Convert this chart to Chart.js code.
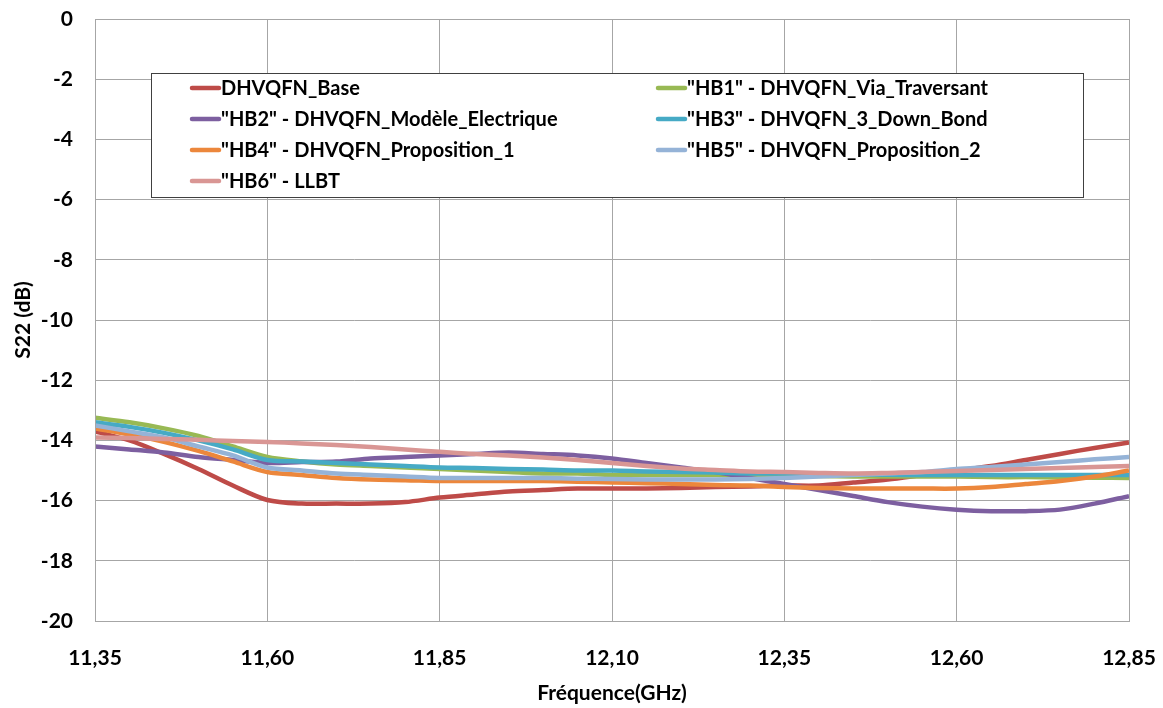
<!DOCTYPE html>
<html>
<head>
<meta charset="utf-8">
<script src="https://cdn.jsdelivr.net/npm/chart.js@4/dist/chart.umd.min.js"></script>
<style>
  html, body { margin: 0; padding: 0; background: #fff; }
  #wrap { width: 1163px; height: 708px; position: relative; }
</style>
</head>
<body>
<div id="wrap"><canvas id="myChart" width="1163" height="708"></canvas></div>
<script>
// frequencies (GHz)
var freqs = [11.35, 11.40, 11.45, 11.50, 11.55, 11.60, 11.65, 11.70, 11.75, 11.80,
             11.85, 11.90, 11.95, 12.00, 12.05, 12.10, 12.15, 12.20, 12.25, 12.30,
             12.35, 12.40, 12.45, 12.50, 12.55, 12.60, 12.65, 12.70, 12.75, 12.80, 12.85];

var base = [-13.7, -14.0, -14.45, -14.95, -15.5, -15.98, -16.1, -16.1, -16.1, -16.05,
            -15.9, -15.8, -15.7, -15.65, -15.6, -15.6, -15.6, -15.58, -15.55, -15.53,
            -15.5, -15.5, -15.4, -15.3, -15.15, -15.0, -14.85, -14.65, -14.45, -14.25, -14.07];

var hb1 = [-13.25, -13.4, -13.6, -13.85, -14.2, -14.55, -14.7, -14.8, -14.85, -14.9,
           -14.95, -15.0, -15.05, -15.1, -15.1, -15.15, -15.15, -15.15, -15.15, -15.17,
           -15.18, -15.18, -15.2, -15.2, -15.2, -15.2, -15.22, -15.22, -15.23, -15.24, -15.25];

var hb2 = [-14.2, -14.3, -14.4, -14.55, -14.65, -14.75, -14.72, -14.7, -14.6, -14.55,
           -14.5, -14.45, -14.4, -14.45, -14.5, -14.6, -14.75, -14.9, -15.05, -15.25,
           -15.45, -15.65, -15.85, -16.05, -16.2, -16.3, -16.35, -16.35, -16.3, -16.1, -15.85];

var hb3 = [-13.4, -13.55, -13.75, -14.0, -14.3, -14.65, -14.7, -14.75, -14.8, -14.85,
           -14.9, -14.92, -14.95, -14.97, -15.0, -15.0, -15.03, -15.05, -15.07, -15.1,
           -15.1, -15.12, -15.13, -15.14, -15.15, -15.15, -15.15, -15.15, -15.15, -15.15, -15.15];

var hb4 = [-13.6, -13.8, -14.05, -14.35, -14.7, -15.05, -15.15, -15.25, -15.3, -15.32,
           -15.35, -15.35, -15.35, -15.35, -15.37, -15.4, -15.42, -15.45, -15.48, -15.5,
           -15.55, -15.58, -15.6, -15.6, -15.6, -15.6, -15.55, -15.45, -15.35, -15.2, -15.0];

var hb5 = [-13.5, -13.7, -13.9, -14.2, -14.5, -14.9, -15.0, -15.1, -15.15, -15.2,
           -15.25, -15.25, -15.25, -15.25, -15.27, -15.28, -15.3, -15.3, -15.3, -15.28,
           -15.25, -15.2, -15.15, -15.1, -15.05, -14.95, -14.88, -14.8, -14.72, -14.63, -14.55];

var hb6 = [-13.9, -13.92, -13.95, -13.98, -14.02, -14.05, -14.1, -14.15, -14.22, -14.3,
           -14.38, -14.45, -14.5, -14.57, -14.65, -14.75, -14.85, -14.93, -14.98, -15.03,
           -15.05, -15.08, -15.1, -15.08, -15.05, -15.02, -14.98, -14.95, -14.92, -14.88, -14.85];

var noms = ['DHVQFN_Base',
            '"HB1" - DHVQFN_Via_Traversant',
            '"HB2" - DHVQFN_Modèle_Electrique',
            '"HB3" - DHVQFN_3_Down_Bond',
            '"HB4" - DHVQFN_Proposition_1',
            '"HB5" - DHVQFN_Proposition_2',
            '"HB6" - LLBT'];
var series = [base, hb1, hb2, hb3, hb4, hb5, hb6];
var couleurs = ['#BE4B48', '#98B954', '#7D5FA0', '#46AAC5', '#EC873C', '#95B3D7', '#D99694'];

var xTicks = [11.35, 11.60, 11.85, 12.10, 12.35, 12.60, 12.85];
var yTicks = [0, -2, -4, -6, -8, -10, -12, -14, -16, -18, -20];

var police = "Lato, 'Open Sans', sans-serif";

var datasets = series.map(function (vals, i) {
    return {
        label: noms[i],
        data: vals.map(function (v, k) { return { x: freqs[k], y: v }; }),
        borderColor: couleurs[i],
        backgroundColor: couleurs[i],
        borderWidth: 4.5,
        pointRadius: 0,
        tension: 0.3,
        order: series.length - i
    };
});

// legend drawn inside the plot, two columns like the original
var legendeInterne = {
    id: 'legendeInterne',
    afterDraw: function (chart) {
        var ctx = chart.ctx;
        ctx.save();
        ctx.fillStyle = '#fff';
        ctx.fillRect(151, 73, 932, 124);
        ctx.strokeStyle = '#404040';
        ctx.lineWidth = 1;
        ctx.strokeRect(151.5, 73.5, 932, 124);
        ctx.font = 'bold 20px ' + police;
        ctx.textBaseline = 'middle';
        var rows = [88, 119, 150, 181];
        for (var i = 0; i < noms.length; i++) {
            var col = i % 2;
            var row = Math.floor(i / 2);
            var lx = col === 0 ? 192 : 658;
            var y = rows[row];
            ctx.strokeStyle = couleurs[i];
            ctx.lineWidth = 4.5;
            ctx.lineCap = 'round';
            ctx.beginPath();
            ctx.moveTo(lx, y);
            ctx.lineTo(lx + 27, y);
            ctx.stroke();
            ctx.fillStyle = '#000';
            ctx.fillText(noms[i], lx + 29, y + 1);
        }
        ctx.restore();
    }
};

var dataChart = new Chart(document.getElementById('myChart').getContext('2d'), {
    type: 'line',
    data: { datasets: datasets },
    options: {
        responsive: false,
        animation: false,
        layout: { padding: { left: 0, right: 34, top: 19, bottom: 0 } },
        plugins: {
            legend: { display: false },
            tooltip: { enabled: false }
        },
        scales: {
            x: {
                type: 'linear',
                min: 11.35,
                max: 12.85,
                afterBuildTicks: function (axis) {
                    axis.ticks = xTicks.map(function (v) { return { value: v }; });
                },
                afterFit: function (axis) {
                    axis.height = 87;
                    axis.paddingLeft = 0;
                    axis.paddingRight = 0;
                },
                grid: { color: '#a6a6a6', drawTicks: false },
                border: { color: '#a6a6a6' },
                ticks: {
                    padding: 25,
                    color: '#000',
                    maxRotation: 0,
                    font: { family: police, size: 21, weight: 'bold' },
                    callback: function (v) { return v.toFixed(2).replace('.', ','); }
                },
                title: {
                    display: true,
                    text: 'Fréquence(GHz)',
                    color: '#000',
                    padding: { top: 0, bottom: 2 },
                    font: { family: police, size: 21, weight: 'bold' }
                }
            },
            y: {
                min: -20,
                max: 0,
                afterBuildTicks: function (axis) {
                    axis.ticks = yTicks.map(function (v) { return { value: v }; });
                },
                afterFit: function (axis) {
                    axis.width = 95;
                    axis.paddingTop = 0;
                    axis.paddingBottom = 0;
                },
                grid: { color: '#a6a6a6', drawTicks: false },
                border: { color: '#a6a6a6' },
                ticks: {
                    padding: 22,
                    color: '#000',
                    font: { family: police, size: 21, weight: 'bold' }
                },
                title: {
                    display: true,
                    text: 'S22 (dB)',
                    color: '#000',
                    padding: { top: 11, bottom: 0 },
                    font: { family: police, size: 21, weight: 'bold' }
                }
            }
        }
    },
    plugins: [legendeInterne, {
        id: 'cadre',
        afterDatasetsDraw: function (chart) {
            var a = chart.chartArea, ctx = chart.ctx;
            ctx.save();
            ctx.strokeStyle = '#a6a6a6';
            ctx.lineWidth = 1;
            ctx.strokeRect(Math.round(a.left) + 0.5, Math.round(a.top) + 0.5,
                           Math.round(a.right - a.left), Math.round(a.bottom - a.top));
            ctx.restore();
        }
    }]
});
</script>
</body>
</html>
